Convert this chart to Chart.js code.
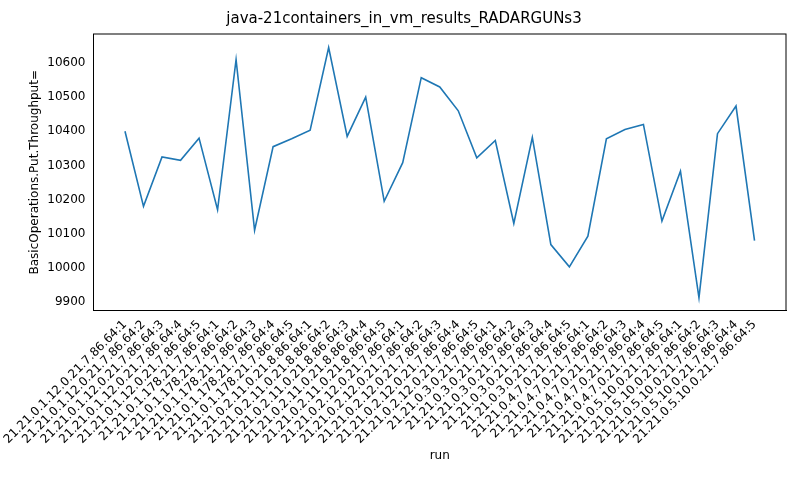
<!DOCTYPE html>
<html>
<head>
<meta charset="utf-8">
<script src="https://cdn.jsdelivr.net/npm/chart.js@4/dist/chart.umd.min.js"></script>
<style>
  html, body { margin: 0; padding: 0; background: #fff; }
  #wrap { width: 800px; height: 500px; }
</style>
</head>
<body>
<div id="wrap"><canvas id="chart" width="800" height="500"></canvas></div>
<script>
const hosts = [
    "21.21.0.1.12.0.21.7.86.64",
    "21.21.0.1.178.21.7.86.64",
    "21.21.0.2.11.0.21.8.86.64",
    "21.21.0.2.12.0.21.7.86.64",
    "21.21.0.3.0.21.7.86.64",
    "21.21.0.4.7.0.21.7.86.64",
    "21.21.0.5.10.0.21.7.86.64"
];
const runs = [1, 2, 3, 4, 5];
const categories = hosts.flatMap(h => runs.map(r => h + ":" + r));

const throughput = [
    10400, 10180, 10325, 10315, 10380,
    10170, 10610, 10110, 10355, 10378,
    10403, 10645, 10385, 10500, 10195,
    10308, 10557, 10530, 10460, 10322,
    10373, 10130, 10382, 10068, 10003,
    10093, 10378, 10405, 10420, 10137,
    10283, 9912, 10393, 10474, 10080
];

const yTicks = [9900, 10000, 10100, 10200, 10300, 10400, 10500, 10600];

const font = { family: "DejaVu Sans", size: 12 };
const margin = (categories.length - 1) * 0.05;

new Chart(document.getElementById("chart"), {
    type: "line",
    data: {
        datasets: [{
            data: throughput.map((v, i) => ({ x: i, y: v })),
            borderColor: "#1f77b4",
            borderWidth: 1.6,
            pointRadius: 0,
            tension: 0,
            fill: false
        }]
    },
    options: {
        responsive: false,
        animation: false,
        layout: { padding: { top: 8, right: 14, left: 22, bottom: 37 } },
        plugins: {
            legend: { display: false },
            tooltip: { enabled: false },
            title: {
                display: true,
                text: "java-21containers_in_vm_results_RADARGUNs3",
                color: "#000",
                font: { family: "DejaVu Sans", size: 15, weight: "normal" },
                padding: { top: 2, bottom: 6 }
            }
        },
        scales: {
            x: {
                type: "linear",
                min: -margin,
                max: categories.length - 1 + margin,
                afterBuildTicks: axis => { axis.ticks = categories.map((c, i) => ({ value: i })); },
                grid: { display: false, drawTicks: true, tickLength: 5, tickColor: "#000" },
                border: { color: "#000" },
                ticks: {
                    color: "#000", font: font, maxRotation: 45, minRotation: 45, autoSkip: false, padding: 2,
                    callback: v => categories[v]
                },
                title: { display: true, text: "run", color: "#000", font: font, padding: 0 }
            },
            y: {
                min: 9875,
                max: 10685,
                afterBuildTicks: axis => { axis.ticks = yTicks.map(v => ({ value: v })); },
                grid: { display: false, drawTicks: true, tickLength: 5, tickColor: "#000" },
                border: { color: "#000" },
                ticks: { color: "#000", font: font, padding: 3, callback: v => String(v) },
                title: { display: true, text: "BasicOperations.Put.Throughput=", color: "#000", font: font, padding: 2 }
            }
        }
    },
    plugins: [{
        id: "frame",
        afterDraw(chart) {
            const a = chart.chartArea, c = chart.ctx;
            c.save();
            c.strokeStyle = "#000";
            c.lineWidth = 1;
            c.strokeRect(a.left, a.top, a.right - a.left, a.bottom - a.top);
            c.restore();
        }
    }]
});
</script>
</body>
</html>
